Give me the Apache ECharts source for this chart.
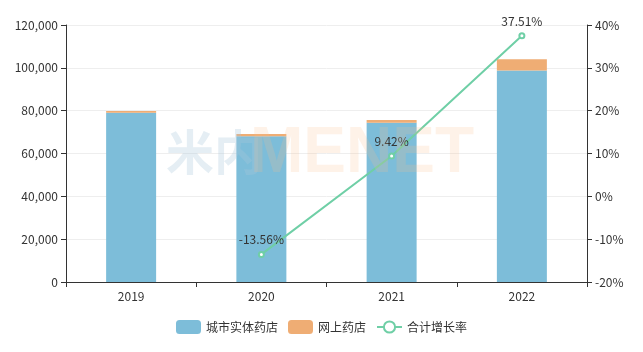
<!DOCTYPE html>
<html>
<head>
<meta charset="utf-8">
<script src="https://cdn.jsdelivr.net/npm/echarts@6/dist/echarts.min.js"></script>
<style>
  html, body { margin: 0; padding: 0; background: #fff; }
  #main { width: 643px; height: 352px; }
</style>
</head>
<body>
<div id="main"></div>
<script>
var years = ['2019', '2020', '2021', '2022'];
var offline = [79000, 68000, 74400, 98700];   // 城市实体药店
var online = [900, 1100, 1250, 5300];         // 网上药店
var growth = ['-', -13.56, 9.42, 37.51];      // 合计增长率 (%)

var myChart = echarts.init(document.getElementById('main'));
var font = 'Noto Sans CJK SC';
var option = {
  textStyle: { fontFamily: font },
  animation: false,
  grid: { left: 66, right: 56, top: 25, bottom: 70 },
  legend: {
    bottom: 13,
    itemWidth: 25,
    itemHeight: 14,
    itemGap: 10,
    textStyle: { color: '#333', fontSize: 12, fontFamily: font },
    data: ['城市实体药店', '网上药店', '合计增长率']
  },
  // 水印
  graphic: [
    {
      type: 'text', left: 166, top: 128, z: 100,
      style: { text: '米内', fontSize: 48, fontWeight: 'bold', fontFamily: font, fill: 'rgba(170,200,220,0.3)' }
    },
    {
      type: 'text', left: 250, top: 122, z: 100,
      style: { text: 'MENET', fontSize: 64, fontWeight: 'bold', fontFamily: 'Liberation Sans', fill: 'rgba(250,190,140,0.2)' }
    }
  ],
  xAxis: {
    type: 'category',
    data: years,
    axisLine: { lineStyle: { color: '#333' } },
    axisTick: { show: true, alignWithLabel: false },
    axisLabel: { color: '#333', fontSize: 12, margin: 8 }
  },
  yAxis: [
    {
      type: 'value', min: 0, max: 120000, interval: 20000,
      axisLine: { show: true, lineStyle: { color: '#333' } },
      axisTick: { show: true },
      axisLabel: { color: '#333', fontSize: 12, formatter: function (v) { return v.toLocaleString('en-US'); } },
      splitLine: { lineStyle: { color: '#eee' } }
    },
    {
      type: 'value', min: -20, max: 40, interval: 10,
      axisLine: { show: true, lineStyle: { color: '#333' } },
      axisTick: { show: true },
      axisLabel: { color: '#333', fontSize: 12, formatter: '{value}%' },
      splitLine: { show: false }
    }
  ],
  series: [
    {
      name: '城市实体药店', type: 'bar', stack: 'total', barWidth: 50,
      itemStyle: { color: '#7dbdd9' },
      data: offline
    },
    {
      name: '网上药店', type: 'bar', stack: 'total', barWidth: 50,
      itemStyle: { color: '#efad74' },
      data: online
    },
    {
      name: '合计增长率', type: 'line', yAxisIndex: 1,
      symbol: 'emptyCircle', symbolSize: 5,
      lineStyle: { color: '#6fcfa6', width: 2 },
      itemStyle: { color: '#6fcfa6' },
      label: { show: true, position: 'top', color: '#333', fontSize: 12, formatter: '{c}%' },
      data: growth
    }
  ]
};
myChart.setOption(option);
</script>
</body>
</html>
